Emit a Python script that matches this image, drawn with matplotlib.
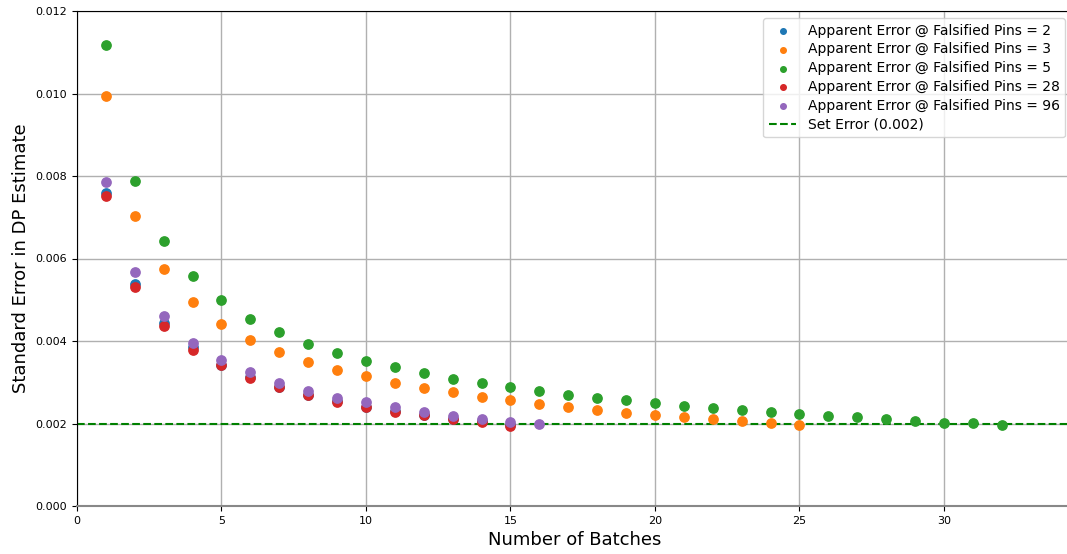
import matplotlib
matplotlib.use('Agg')
import matplotlib.pyplot as plt

# standard error per number of batches, one list per falsified-pins setting
pins = [2, 3, 5, 28, 96]
err_2 = [0.00759, 0.00538, 0.00444, 0.00385, 0.00341, 0.00312, 0.00289, 0.00270,
         0.00254, 0.00241, 0.00231, 0.00221, 0.00212, 0.00205, 0.00197]
err_3 = [0.00994, 0.00703, 0.00575, 0.00495, 0.00441, 0.00402, 0.00373, 0.00350,
         0.00330, 0.00314, 0.00297, 0.00286, 0.00276, 0.00265, 0.00256, 0.00248,
         0.00241, 0.00233, 0.00226, 0.00221, 0.00216, 0.00210, 0.00206, 0.00202,
         0.00197]
err_5 = [0.01118, 0.00788, 0.00643, 0.00558, 0.00499, 0.00454, 0.00422, 0.00393,
         0.00371, 0.00352, 0.00337, 0.00322, 0.00309, 0.00298, 0.00288, 0.00278,
         0.00270, 0.00263, 0.00256, 0.00249, 0.00243, 0.00237, 0.00233, 0.00227,
         0.00223, 0.00219, 0.00215, 0.00210, 0.00207, 0.00202, 0.00201, 0.00196]
err_28 = [0.00752, 0.00530, 0.00436, 0.00378, 0.00342, 0.00310, 0.00288, 0.00268,
          0.00253, 0.00240, 0.00229, 0.00220, 0.00210, 0.00203, 0.00194]
err_96 = [0.00785, 0.00568, 0.00460, 0.00395, 0.00354, 0.00326, 0.00299, 0.00279,
          0.00263, 0.00251, 0.00239, 0.00229, 0.00219, 0.00212, 0.00204, 0.00198]
set_error = 0.002

series = [err_2, err_3, err_5, err_28, err_96]
colors = ['C0', 'C1', 'C2', 'C3', 'C4']

fig = plt.figure(figsize=(10.67, 5.54), dpi=100)
ax = fig.add_axes([77 / 1067, 48 / 554, (1072 - 77) / 1067, 495 / 554])

for p, vals, c in zip(pins, series, colors):
    batches = list(range(1, len(vals) + 1))
    ax.scatter(batches, vals, s=45, color=c, zorder=3,
               label='Apparent Error @ Falsified Pins = %d' % p)
ax.axhline(set_error, color='g', linestyle='--', linewidth=1.5, zorder=2,
           label='Set Error (0.002)')

ax.set_xlim(0, 34.43)
ax.set_ylim(0, 0.012)
ax.set_yticks([0, 0.002, 0.004, 0.006, 0.008, 0.010, 0.012])
ax.set_yticklabels(['%.3f' % v for v in ax.get_yticks()])
ax.grid(True, color='#b0b0b0', linewidth=1)
ax.set_axisbelow(True)
ax.spines['bottom'].set_color('#888888')
ax.spines['bottom'].set_linewidth(1.5)
ax.tick_params(labelsize=8)
ax.set_xlabel('Number of Batches', fontsize=13)
ax.set_ylabel('Standard Error in DP Estimate', fontsize=13)
ax.legend(loc='upper right', fontsize=10, labelspacing=0.35, markerscale=0.6,
          borderaxespad=0.5)

fig.savefig('out.png', dpi=100)
